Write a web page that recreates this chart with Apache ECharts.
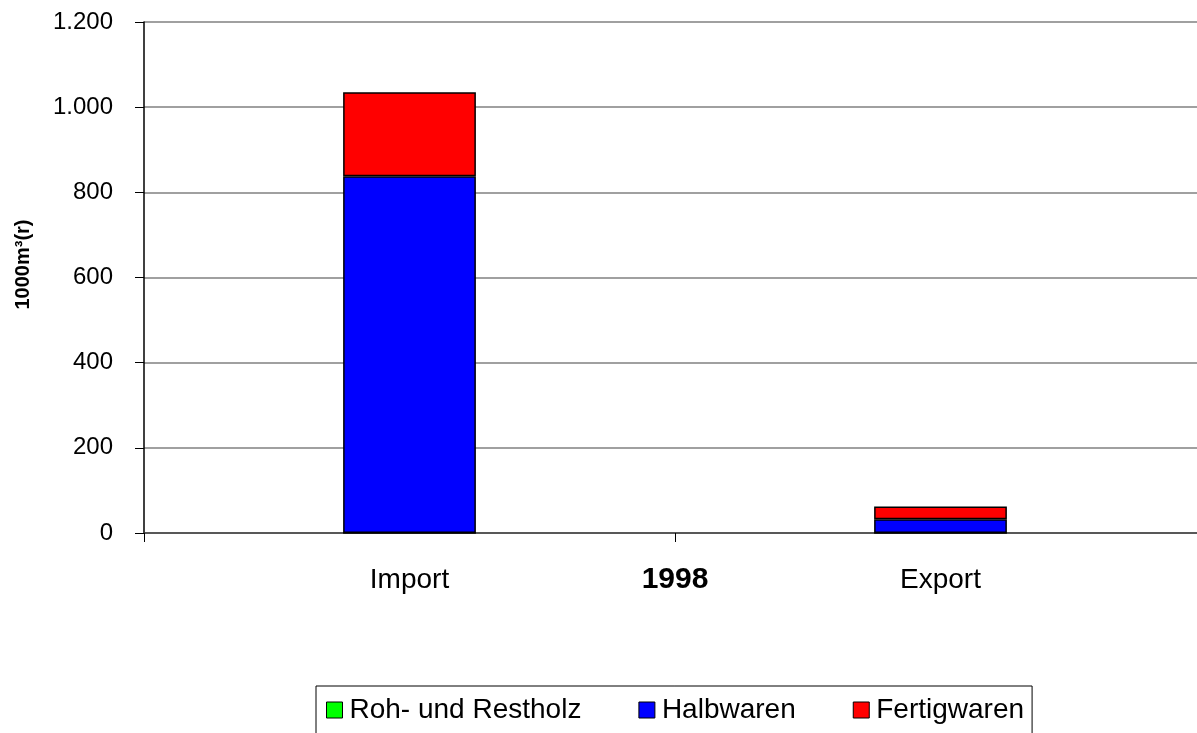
<!DOCTYPE html>
<html>
<head>
<meta charset="utf-8">
<script src="https://cdn.jsdelivr.net/npm/echarts@6/dist/echarts.min.js"></script>
<style>
  html, body { margin: 0; padding: 0; background: #fff; }
  #main { width: 1197px; height: 733px; }
</style>
</head>
<body>
<div id="main"></div>
<script>
// 数据
var categories = ['Import', 'Export'];
var yearLabel = ['1998'];
var seriesNames = ['Roh- und Restholz', 'Halbwaren', 'Fertigwaren'];
var rohValues = [0, 0];
var halbValues = [838, 32];
var fertigValues = [197, 30];
var seriesColors = ['#00ff00', '#0000ff', '#ff0000'];

(function () {
  var myChart = echarts.init(document.getElementById('main'));
  var font = 'Liberation Sans, Arial, sans-serif';
  var allValues = [rohValues, halbValues, fertigValues];

  var series = seriesNames.map(function (name, i) {
    return {
      name: name,
      type: 'bar',
      stack: 'total',
      barWidth: '25%',
      data: allValues[i],
      itemStyle: {
        color: seriesColors[i],
        borderColor: '#000',
        borderWidth: 1.5
      }
    };
  });

  var option = {
    animation: false,
    textStyle: { fontFamily: font },
    // 绘图区向右超出画布
    grid: {
      left: 144,
      right: -9,
      top: 22,
      height: 511,
      outerBoundsMode: 'none'
    },
    legend: {
      left: 316,
      top: 686,
      padding: [10, 8, 20, 10],
      borderColor: '#000',
      borderWidth: 1,
      itemWidth: 16,
      itemHeight: 16,
      itemGap: 57,
      icon: 'rect',
      textStyle: { fontSize: 28, color: '#000', fontFamily: font, padding: [0, 0, 0, 2] },
      itemStyle: { borderColor: '#000', borderWidth: 1 },
      data: seriesNames
    },
    xAxis: [
      {
        type: 'category',
        data: categories,
        axisLine: { lineStyle: { color: '#404040', width: 1.5 } },
        axisTick: { show: true, length: 9, lineStyle: { color: '#000' } },
        axisLabel: { color: '#000', fontSize: 28, margin: 33 }
      },
      {
        type: 'category',
        data: yearLabel,
        position: 'bottom',
        axisLine: { show: false },
        axisTick: { show: false },
        axisLabel: { color: '#000', fontSize: 30, fontWeight: 'bold', margin: 32 }
      }
    ],
    yAxis: {
      type: 'value',
      min: 0,
      max: 1200,
      interval: 200,
      name: '1000m³(r)',
      nameLocation: 'middle',
      nameGap: 111,
      nameTextStyle: { fontSize: 20, fontWeight: 'bold', color: '#000', padding: [0, 0, 0, 26] },
      axisLine: { show: true, lineStyle: { color: '#000', width: 1.5 } },
      axisTick: { show: true, length: 9, lineStyle: { color: '#000' } },
      axisLabel: {
        color: '#000',
        fontSize: 24,
        margin: 31,
        formatter: function (v) {
          return v >= 1000 ? Math.floor(v / 1000) + '.' + String(v % 1000).padStart(3, '0') : String(v);
        }
      },
      splitLine: { lineStyle: { color: '#808080', width: 1.5 } }
    },
    series: series
  };

  myChart.setOption(option);
  window.addEventListener('resize', function () {
    myChart.resize();
  });
})();
</script>
</body>
</html>
